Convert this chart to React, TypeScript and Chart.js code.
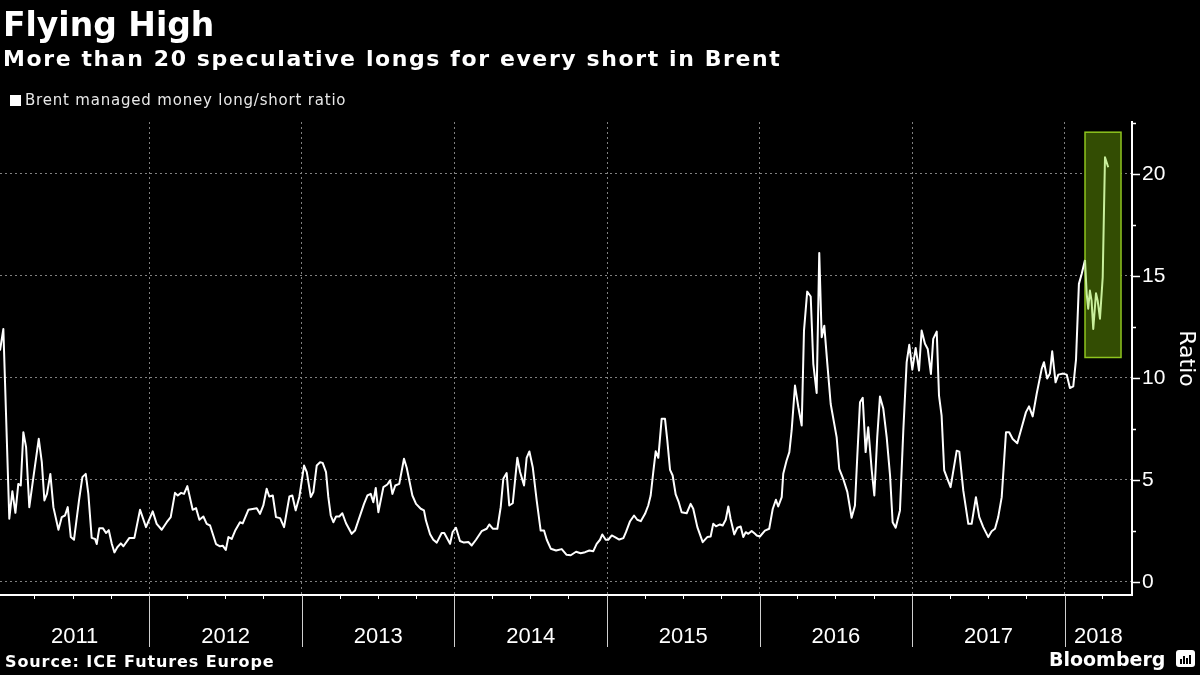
import React, { useEffect, useRef } from "react";
import { Chart, registerables } from "chart.js";

Chart.register(...registerables);

// ---- DATA ----
// Observation dates (decimal years) and Brent managed-money long/short ratio
const weekDates: number[] = [
  // 2011
  2011.021, 2011.043, 2011.082, 2011.102, 2011.122, 2011.141, 2011.157, 2011.174, 2011.192, 2011.213,
  2011.240, 2011.275, 2011.295, 2011.312, 2011.329, 2011.351, 2011.371, 2011.404, 2011.426, 2011.447,
  2011.465, 2011.485, 2011.506, 2011.539, 2011.561, 2011.583, 2011.600, 2011.622, 2011.644, 2011.655,
  2011.672, 2011.695, 2011.716, 2011.734, 2011.754, 2011.771, 2011.790, 2011.813, 2011.830, 2011.869,
  2011.902, 2011.939, 2011.978,
  // 2012
  2012.022, 2012.048, 2012.081, 2012.114, 2012.140, 2012.168, 2012.186, 2012.208, 2012.227, 2012.249,
  2012.284, 2012.306, 2012.328, 2012.354, 2012.376, 2012.398, 2012.437, 2012.463, 2012.481, 2012.501,
  2012.518, 2012.540, 2012.562, 2012.594, 2012.612, 2012.649, 2012.704, 2012.725, 2012.747, 2012.769,
  2012.786, 2012.809, 2012.830, 2012.857, 2012.883, 2012.918, 2012.937, 2012.959, 2012.983,
  // 2013
  2013.014, 2013.032, 2013.058, 2013.075, 2013.097, 2013.119, 2013.136, 2013.158, 2013.173, 2013.189,
  2013.206, 2013.224, 2013.245, 2013.265, 2013.289, 2013.326, 2013.348, 2013.376, 2013.407, 2013.429,
  2013.451, 2013.468, 2013.484, 2013.501, 2013.534, 2013.560, 2013.578, 2013.593, 2013.612, 2013.638,
  2013.669, 2013.687, 2013.724, 2013.748, 2013.779, 2013.800, 2013.813, 2013.840, 2013.861, 2013.884,
  2013.916, 2013.933, 2013.971, 2013.988,
  // 2014
  2014.010, 2014.036, 2014.062, 2014.091, 2014.113, 2014.141, 2014.178, 2014.211, 2014.228, 2014.251,
  2014.281, 2014.303, 2014.320, 2014.342, 2014.359, 2014.382, 2014.412, 2014.430, 2014.456, 2014.473,
  2014.491, 2014.513, 2014.539, 2014.565, 2014.587, 2014.605, 2014.631, 2014.666, 2014.703, 2014.735,
  2014.762, 2014.797, 2014.827, 2014.856, 2014.884, 2014.910, 2014.932, 2014.954, 2014.969, 2014.991,
  // 2015
  2015.008, 2015.031, 2015.052, 2015.080, 2015.107, 2015.124, 2015.151, 2015.177, 2015.198, 2015.221,
  2015.249, 2015.270, 2015.286, 2015.303, 2015.319, 2015.336, 2015.358, 2015.380, 2015.395, 2015.413,
  2015.430, 2015.450, 2015.470, 2015.489, 2015.522, 2015.548, 2015.565, 2015.592, 2015.627, 2015.657,
  2015.679, 2015.696, 2015.714, 2015.740, 2015.758, 2015.778, 2015.795, 2015.810, 2015.834, 2015.854,
  2015.876, 2015.893, 2015.909, 2015.926, 2015.948, 2015.970, 2015.981,
  // 2016
  2016.002, 2016.035, 2016.063, 2016.086, 2016.107, 2016.122, 2016.145, 2016.155, 2016.177, 2016.195,
  2016.210, 2016.232, 2016.254, 2016.276, 2016.291, 2016.312, 2016.335, 2016.352, 2016.374, 2016.391,
  2016.407, 2016.424, 2016.444, 2016.466, 2016.505, 2016.522, 2016.548, 2016.575, 2016.603, 2016.625,
  2016.640, 2016.658, 2016.676, 2016.695, 2016.712, 2016.735, 2016.752, 2016.771, 2016.789, 2016.811,
  2016.833, 2016.855, 2016.872, 2016.892, 2016.920, 2016.942, 2016.964, 2016.981,
  // 2017
  2017.001, 2017.023, 2017.045, 2017.062, 2017.084, 2017.102, 2017.123, 2017.138, 2017.161, 2017.176,
  2017.193, 2017.210, 2017.226, 2017.252, 2017.292, 2017.309, 2017.335, 2017.368, 2017.390, 2017.418,
  2017.440, 2017.466, 2017.499, 2017.521, 2017.543, 2017.564, 2017.587, 2017.615, 2017.636, 2017.659,
  2017.689, 2017.718, 2017.746, 2017.766, 2017.790, 2017.816, 2017.849, 2017.864, 2017.885, 2017.903,
  2017.918, 2017.940, 2017.958, 2017.990,
  // 2018
  2018.013, 2018.034, 2018.056, 2018.074, 2018.093, 2018.111, 2018.133, 2018.144, 2018.154, 2018.165,
  2018.176, 2018.187, 2018.205, 2018.216, 2018.231, 2018.249, 2018.264, 2018.285,
];

const longShortRatio: number[] = [
  // 2011
  11.34, 12.4, 3.09, 4.44, 3.38, 4.8, 4.72, 7.33, 6.6, 3.66,
  5.13, 7.01, 5.87, 3.99, 4.31, 5.29, 3.66, 2.55, 3.17, 3.25,
  3.66, 2.19, 2.06, 3.99, 5.13, 5.29, 4.31, 2.15, 2.1, 1.85,
  2.63, 2.63, 2.39, 2.53, 1.85, 1.44, 1.69, 1.88, 1.74, 2.15,
  2.15, 3.53, 2.68,
  // 2012
  3.45, 2.84, 2.55, 2.92, 3.17, 4.36, 4.23, 4.36, 4.31, 4.69,
  3.53, 3.61, 3.04, 3.2, 2.84, 2.76, 1.85, 1.74, 1.77, 1.56,
  2.19, 2.1, 2.5, 2.92, 2.86, 3.53, 3.61, 3.33, 3.74, 4.56,
  4.18, 4.23, 3.17, 3.12, 2.68, 4.18, 4.23, 3.5, 4.16,
  // 2013
  5.7, 5.38, 4.16, 4.4, 5.7, 5.86, 5.83, 5.38, 4.16, 3.25,
  2.92, 3.2, 3.2, 3.36, 2.87, 2.35, 2.51, 3.13, 3.82, 4.23,
  4.31, 3.9, 4.6, 3.41, 4.64, 4.77, 4.97, 4.31, 4.72, 4.8,
  6.03, 5.59, 4.23, 3.82, 3.58, 3.5, 3.0, 2.33, 2.06, 1.92,
  2.39, 2.39, 1.86, 2.44,
  // 2014
  2.65, 2.0, 1.92, 1.95, 1.78, 2.06, 2.48, 2.6, 2.81, 2.6,
  2.6, 3.66, 5.05, 5.33, 3.74, 3.85, 6.08, 5.38, 4.72, 6.08,
  6.39, 5.62, 3.98, 2.51, 2.51, 2.06, 1.62, 1.53, 1.6, 1.32,
  1.3, 1.47, 1.4, 1.45, 1.53, 1.5, 1.86, 2.06, 2.32, 2.06,
  // 2015
  2.06, 2.27, 2.19, 2.07, 2.14, 2.43, 2.97, 3.25, 3.04, 2.97,
  3.33, 3.74, 4.23, 5.38, 6.4, 6.08, 7.99, 7.99, 6.93, 5.49,
  5.21, 4.28, 3.9, 3.41, 3.36, 3.82, 3.58, 2.68, 1.94, 2.19,
  2.22, 2.84, 2.72, 2.81, 2.76, 3.04, 3.69, 3.08, 2.32, 2.65,
  2.71, 2.19, 2.43, 2.35, 2.49, 2.35, 2.27,
  // 2016
  2.22, 2.51, 2.6, 3.57, 4.02, 3.69, 4.15, 5.3, 5.95, 6.36,
  7.42, 9.62, 8.56, 7.66, 12.32, 14.23, 13.99, 10.69, 9.26, 16.13,
  11.99, 12.56, 10.69, 8.72, 7.09, 5.54, 5.05, 4.41, 3.14, 3.74,
  6.11, 8.8, 9.02, 6.36, 7.58, 5.46, 4.23, 7.09, 9.09, 8.48,
  7.09, 5.22, 2.92, 2.65, 3.5, 7.42, 10.77, 11.62,
  // 2017
  10.4, 11.47, 10.36, 12.32, 11.67, 11.42, 10.19, 11.91, 12.27, 9.13,
  8.15, 5.46, 5.14, 4.64, 6.43, 6.38, 4.48, 2.84, 2.84, 4.15,
  3.17, 2.68, 2.19, 2.48, 2.6, 3.17, 4.15, 7.33, 7.33, 7.0,
  6.79, 7.57, 8.32, 8.6, 8.11, 9.21, 10.44, 10.77, 9.97, 10.21,
  11.3, 9.78, 10.16, 10.21,
  // 2018
  10.16, 9.5, 9.58, 10.89, 14.61, 15.1, 15.78, 14.12, 13.39, 14.28,
  13.79, 12.4, 14.15, 13.79, 12.9, 14.93, 20.82, 20.33,
];

const yearLabels: string[] = ["2011", "2012", "2013", "2014", "2015", "2016", "2017", "2018"];
const yTickValues: number[] = [0, 2.5, 5, 7.5, 10, 12.5, 15, 17.5, 20, 22.5];
const yLabelValues: number[] = [0, 5, 10, 15, 20];

// Highlighted 2018 window (dates, ratio bounds)
const highlightDates: number[] = [2018.133, 2018.369];
const highlightRatio: number[] = [11, 22.05];

const X_MIN = 2011.021;
const X_MAX = 2018.441;
const Y_MIN = -0.65;
const Y_MAX = 22.55;

const FONT_SANS = "'DejaVu Sans', sans-serif";
const FONT_AXIS = "'Liberation Sans', Arial, sans-serif";

const decorPlugin = {
  id: "decor",
  beforeDatasetsDraw(chart: any) {
    const { ctx, scales } = chart;
    const x = scales.x;
    const y = scales.y;
    const l = x.getPixelForValue(highlightDates[0]);
    const r = x.getPixelForValue(highlightDates[1]);
    const t = y.getPixelForValue(highlightRatio[1]);
    const b = y.getPixelForValue(highlightRatio[0]);
    ctx.save();
    ctx.fillStyle = "#334d03";
    ctx.fillRect(l, t, r - l, b - t);
    ctx.strokeStyle = "#8ec41e";
    ctx.lineWidth = 1.5;
    ctx.strokeRect(l, t, r - l, b - t);
    ctx.restore();
  },
  afterDraw(chart: any) {
    const { ctx, chartArea, scales } = chart;
    const x = scales.x;
    const y = scales.y;
    ctx.save();
    // year separators below the axis and year labels
    ctx.strokeStyle = "#cfcfcf";
    ctx.lineWidth = 1;
    ctx.fillStyle = "#ffffff";
    ctx.font = `22px ${FONT_AXIS}`;
    ctx.textAlign = "center";
    ctx.textBaseline = "alphabetic";
    yearLabels.forEach((lab) => {
      const yr = Number(lab);
      if (yr > x.min && yr < x.max) {
        const px = Math.round(x.getPixelForValue(yr)) + 0.5;
        ctx.beginPath();
        ctx.moveTo(px, chartArea.bottom);
        ctx.lineTo(px, chartArea.bottom + 52);
        ctx.stroke();
      }
      const s = Math.max(x.min, yr);
      const e = Math.min(x.max, yr + 1);
      const cx = (x.getPixelForValue(s) + x.getPixelForValue(e)) / 2;
      ctx.fillText(lab, cx, chartArea.bottom + 48);
    });
    // y-axis tick marks
    ctx.strokeStyle = "#ffffff";
    ctx.lineWidth = 1.5;
    yTickValues.forEach((v) => {
      const py = Math.round(y.getPixelForValue(v)) + 0.5;
      const len = yLabelValues.includes(v) ? 8 : 4;
      ctx.beginPath();
      ctx.moveTo(chartArea.right, py);
      ctx.lineTo(chartArea.right + len, py);
      ctx.stroke();
    });
    ctx.restore();
  },
};

export default function App() {
  const canvasRef = useRef<HTMLCanvasElement | null>(null);

  useEffect(() => {
    const canvas = canvasRef.current;
    if (!canvas) return;
    const n = Math.min(weekDates.length, longShortRatio.length);
    const points = [];
    for (let i = 0; i < n; i++) points.push({ x: weekDates[i], y: longShortRatio[i] });

    const chart = new Chart(canvas, {
      type: "line",
      data: {
        datasets: [
          {
            label: "Brent managed money long/short ratio",
            data: points,
            borderColor: "#ffffff",
            borderWidth: 2,
            pointRadius: 0,
            tension: 0,
            borderJoinStyle: "round",
            segment: {
              borderColor: (c: any) =>
                c.p0.parsed.x >= highlightDates[0] - 1e-6 ? "#c9ef9c" : undefined,
            },
          } as any,
        ],
      },
      options: {
        animation: false,
        responsive: false,
        maintainAspectRatio: false,
        layout: { padding: { top: 122, left: 0, right: 0, bottom: 0 } },
        plugins: {
          legend: { display: false },
          tooltip: { enabled: false },
          title: { display: false },
        },
        scales: {
          x: {
            type: "linear",
            min: X_MIN,
            max: X_MAX,
            afterBuildTicks: (scale: any) => {
              const ticks = [];
              for (let q = 2011 * 4; q <= 2019 * 4; q++) {
                const v = q / 4;
                if (v >= X_MIN && v <= X_MAX) ticks.push({ value: v });
              }
              scale.ticks = ticks;
            },
            afterFit: (scale: any) => {
              scale.height = 80;
            },
            ticks: { display: false },
            grid: {
              drawOnChartArea: true,
              drawTicks: true,
              tickLength: 4,
              lineWidth: 1,
              color: (c: any) =>
                c.tick && Number.isInteger(c.tick.value) ? "#808080" : "rgba(0,0,0,0)",
              tickColor: (c: any) =>
                c.tick && Number.isInteger(c.tick.value) ? "rgba(0,0,0,0)" : "#ffffff",
            },
            border: { display: true, color: "#ffffff", width: 2, dash: [2, 3] },
          },
          y: {
            type: "linear",
            position: "right",
            min: Y_MIN,
            max: Y_MAX,
            afterBuildTicks: (scale: any) => {
              scale.ticks = yTickValues.map((v) => ({ value: v }));
            },
            afterFit: (scale: any) => {
              scale.width = 68;
            },
            ticks: {
              color: "#ffffff",
              padding: 10,
              font: { family: FONT_AXIS, size: 21 },
              callback: (v: any) => (yLabelValues.includes(Number(v)) ? String(v) : ""),
            },
            grid: {
              drawTicks: false,
              lineWidth: 1,
              color: (c: any) =>
                c.tick && yLabelValues.includes(c.tick.value) ? "#808080" : "rgba(0,0,0,0)",
            },
            border: { display: true, color: "#ffffff", width: 2, dash: [2, 3] },
            title: {
              display: true,
              text: "Ratio",
              color: "#ffffff",
              font: { family: FONT_SANS, size: 22 },
              padding: { top: 1, bottom: 0 },
            },
          },
        },
      },
      plugins: [decorPlugin],
    } as any);

    return () => {
      chart.destroy();
    };
  }, []);

  const txt: React.CSSProperties = {
    position: "absolute",
    color: "#ffffff",
    fontFamily: FONT_SANS,
    lineHeight: 1,
    whiteSpace: "nowrap",
    margin: 0,
  };

  return (
    <div
      style={{
        position: "fixed",
        left: 0,
        top: 0,
        width: 1200,
        height: 675,
        background: "#000000",
        overflow: "hidden",
      }}
    >
      <canvas
        ref={canvasRef}
        width={1200}
        height={675}
        style={{ position: "absolute", left: 0, top: 0, width: 1200, height: 675 }}
      />
      <div style={{ ...txt, left: 3, top: 8, fontSize: 33, fontWeight: "bold" }}>Flying High</div>
      <div style={{ ...txt, left: 3, top: 48, fontSize: 22, fontWeight: "bold", letterSpacing: "1.6px" }}>
        More than 20 speculative longs for every short in Brent
      </div>
      <div style={{ position: "absolute", left: 10, top: 95, width: 11, height: 11, background: "#ffffff" }} />
      <div style={{ ...txt, left: 25, top: 93, fontSize: 15, letterSpacing: "0.8px", color: "#e8e8e8" }}>
        Brent managed money long/short ratio
      </div>
      <div style={{ ...txt, left: 5, top: 654, fontSize: 16, fontWeight: "bold", letterSpacing: "0.9px" }}>
        Source: ICE Futures Europe
      </div>
      <div style={{ ...txt, left: 1049, top: 650, fontSize: 19, fontWeight: "bold" }}>Bloomberg</div>
      <div
        style={{
          position: "absolute",
          left: 1176,
          top: 650,
          width: 19,
          height: 17,
          background: "#ffffff",
          borderRadius: 3,
          display: "flex",
          alignItems: "flex-end",
          justifyContent: "center",
          gap: 1,
          paddingBottom: 3,
          boxSizing: "border-box",
        }}
      >
        <div style={{ width: 2, height: 5, background: "#000" }} />
        <div style={{ width: 2, height: 8, background: "#000" }} />
        <div style={{ width: 2, height: 6, background: "#000" }} />
        <div style={{ width: 2, height: 9, background: "#000" }} />
      </div>
    </div>
  );
}
